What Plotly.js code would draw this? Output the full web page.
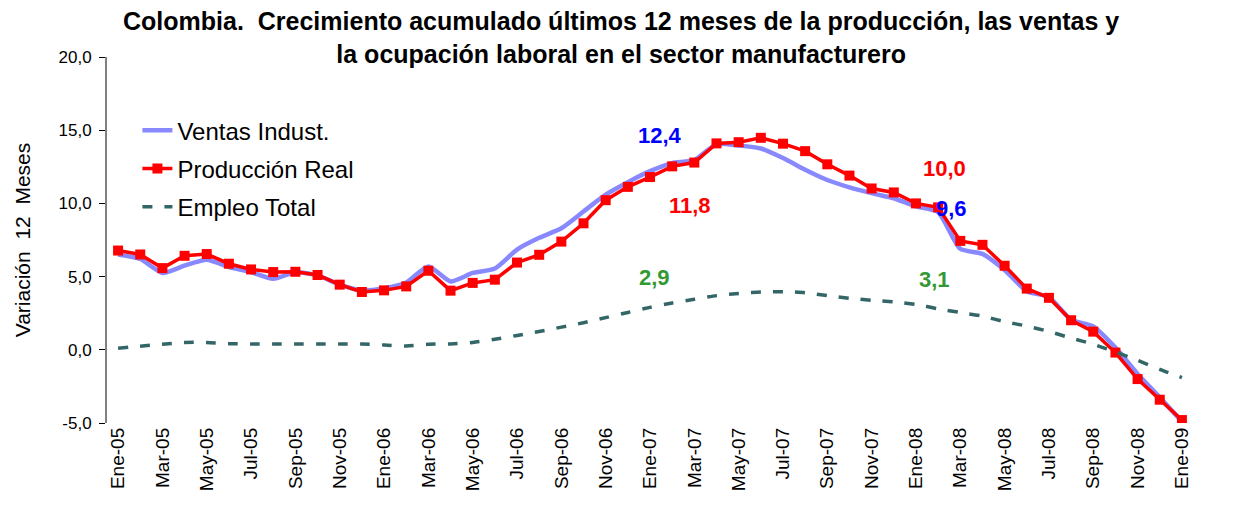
<!DOCTYPE html>
<html>
<head>
<meta charset="utf-8">
<script src="https://cdn.plot.ly/plotly-3.0.1.min.js"></script>
<style>
  body { margin: 0; background: #fff; }
  #plot { width: 1251px; height: 508px; }
</style>
</head>
<body>
<div id="plot"></div>
<script>
/* Meses, enero 2005 a enero 2009 */
var months = [
  "Ene-05","Feb-05","Mar-05","Abr-05","May-05","Jun-05","Jul-05","Ago-05","Sep-05","Oct-05","Nov-05","Dic-05",
  "Ene-06","Feb-06","Mar-06","Abr-06","May-06","Jun-06","Jul-06","Ago-06","Sep-06","Oct-06","Nov-06","Dic-06",
  "Ene-07","Feb-07","Mar-07","Abr-07","May-07","Jun-07","Jul-07","Ago-07","Sep-07","Oct-07","Nov-07","Dic-07",
  "Ene-08","Feb-08","Mar-08","Abr-08","May-08","Jun-08","Jul-08","Ago-08","Sep-08","Oct-08","Nov-08","Dic-08",
  "Ene-09"
];

var ventas = [
  6.5, 6.2, 5.25, 5.75, 6.15, 5.65, 5.3, 4.85, 5.3, 5.08, 4.45, 4.05,
  4.2, 4.6, 5.69, 4.67, 5.25, 5.55, 6.85, 7.65, 8.3, 9.45, 10.6, 11.45,
  12.2, 12.75, 12.95, 14.05, 13.95, 13.75, 13.1, 12.3, 11.6, 11.1, 10.7, 10.35,
  9.8, 9.4, 6.9, 6.55, 5.45, 4.0, 3.6, 2.05, 1.6, 0.15, -1.65, -3.25,
  -4.9
];

var produccion = [
  6.78, 6.51, 5.58, 6.42, 6.54, 5.88, 5.49, 5.31, 5.33, 5.11, 4.45, 3.95,
  4.06, 4.33, 5.4, 4.04, 4.57, 4.79, 5.96, 6.49, 7.39, 8.64, 10.22, 11.13,
  11.8, 12.53, 12.79, 14.1, 14.18, 14.48, 14.08, 13.57, 12.67, 11.9, 11.02, 10.75,
  10.0, 9.73, 7.44, 7.17, 5.74, 4.18, 3.55, 2.02, 1.24, -0.19, -2.0, -3.41,
  -4.8
];

var empleo = [
  0.1, 0.25, 0.38, 0.5, 0.5, 0.42, 0.4, 0.4, 0.4, 0.4, 0.4, 0.4,
  0.33, 0.26, 0.38, 0.4, 0.5, 0.72, 0.98, 1.25, 1.55, 1.85, 2.2, 2.55,
  2.9, 3.2, 3.45, 3.7, 3.85, 3.95, 3.97, 3.9, 3.7, 3.52, 3.38, 3.28,
  3.1, 2.8, 2.55, 2.3, 1.92, 1.62, 1.25, 0.8, 0.38, -0.15, -0.72, -1.33,
  -1.9
];

var yTicks = [-5, 0, 5, 10, 15, 20];
var yTickText = ["-5,0", "0,0", "5,0", "10,0", "15,0", "20,0"];

var idx = months.map(function (m, i) { return i; });
var labelIdx = idx.filter(function (i) { return i % 2 === 0; });
var labelTxt = labelIdx.map(function (i) { return months[i]; });

var font = "Arial, 'Liberation Sans', sans-serif";

var trace1 = {
  x: idx, y: ventas, text: months,
  mode: "lines", type: "scatter", name: "Ventas Indust.",
  legendgroup: "a",
  line: {color: "#8888ff", width: 4.5, shape: "spline", smoothing: 0.6}
};

var trace2 = {
  x: idx, y: produccion, text: months,
  mode: "lines+markers", type: "scatter", name: "Producción Real",
  legendgroup: "b",
  line: {color: "#ff0000", width: 3.5},
  marker: {color: "#ff0000", symbol: "square", size: 10}
};

var trace3 = {
  x: idx, y: empleo, text: months,
  mode: "lines", type: "scatter", name: "Empleo Total",
  legendgroup: "c",
  line: {color: "#336666", width: 3.5, dash: "10px,12px", shape: "spline", smoothing: 0.6}
};

function note(x, y, txt, col) {
  return {x: x, y: y, xref: "x", yref: "y", text: txt, showarrow: false,
          font: {family: font, size: 22, color: col, weight: "bold"}};
}

var layout = {
  width: 1251, height: 508,
  margin: {l: 107, r: 58, t: 57, b: 85},
  paper_bgcolor: "#ffffff", plot_bgcolor: "#ffffff",
  separators: ",.",
  font: {family: font, color: "#000000"},
  title: {
    text: "<b>Colombia.  Crecimiento acumulado últimos 12 meses de la producción, las ventas y<br>la ocupación laboral en el sector manufacturero</b>",
    font: {family: font, size: 25, color: "#000000"},
    x: 0.4965, xref: "container", xanchor: "center",
    y: 0.94, yref: "container", yanchor: "middle"
  },
  showlegend: true,
  legend: {
    x: 0.028, y: 0.86, xanchor: "left", yanchor: "top",
    bgcolor: "rgba(0,0,0,0)",
    font: {family: font, size: 24, color: "#000000"},
    tracegroupgap: 4
  },
  xaxis: {
    range: [-0.5, 48.5],
    tickmode: "array", tickvals: labelIdx, ticktext: labelTxt,
    tickangle: -90, ticks: "", showline: false, showgrid: false, zeroline: false,
    tickfont: {family: font, size: 19, color: "#000000"}
  },
  xaxis2: {
    overlaying: "x", anchor: "free", position: 0.2,
    range: [-0.5, 48.5],
    tick0: -0.5, dtick: 2, ticks: "outside", ticklen: 6, tickcolor: "#000000",
    showticklabels: false, showline: true, linecolor: "#000000", linewidth: 1,
    showgrid: false, zeroline: false
  },
  yaxis: {
    range: [-5, 20],
    tickmode: "array", tickvals: yTicks, ticktext: yTickText,
    ticks: "outside", ticklen: 6, tickcolor: "#000000",
    ticklabelstandoff: 4,
    showline: true, linecolor: "#808080", linewidth: 2,
    showgrid: false, zeroline: false,
    tickfont: {family: font, size: 17, color: "#000000"},
    title: {text: "Variación  12  Meses", font: {family: font, size: 21, color: "#000000"}, standoff: 22}
  },
  annotations: [
    note(24.45, 14.64, "12,4", "#0000ff"),
    note(25.8, 9.88, "11,8", "#ff0000"),
    note(24.2, 4.93, "2,9", "#339933"),
    note(37.3, 12.4, "10,0", "#ff0000"),
    note(37.6, 9.68, "9,6", "#0000ff"),
    note(36.85, 4.79, "3,1", "#339933"),
    note(49.5, -1.12, "-1,9", "#339933"),
    note(49.6, -3.09, "-4,8", "#ff0000"),
    note(49.8, -5.0, "-4,9", "#0000ff")
  ]
};

Plotly.newPlot("plot", [trace1, trace2, trace3], layout, {staticPlot: true});
</script>
</body>
</html>
